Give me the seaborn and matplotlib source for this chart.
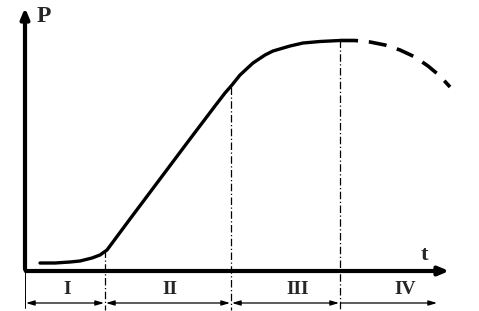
import matplotlib
matplotlib.use('Agg')
import matplotlib.pyplot as plt
import seaborn as sns

sns.set_style('white')
plt.rcParams['font.family'] = ['Liberation Serif', 'DejaVu Serif']

# curve (pixel coordinates, y downwards)
solid_t = [40, 55, 70, 80, 92, 100, 107, 130, 160, 190, 215, 225, 232, 240, 253, 265, 273, 290, 303, 320, 340]
solid_p = [263, 263, 262, 261, 258, 255, 250, 219, 179, 139, 106, 93, 85, 75, 63, 55, 51, 46, 43, 41.5, 40.5]
dash_t = [340, 355, 370, 385, 400, 415, 428, 440, 450]
dash_p = [40.5, 40.5, 42, 45, 50, 57, 66, 76, 87]

# phase boundaries and labels
bounds = [25, 105, 231, 340, 438]
bound_top = [271, 250, 87, 40]
phases = ['I', 'II', 'III', 'IV']
phase_x = [67, 170, 298, 405]

fig = plt.figure(figsize=(4.79, 3.11), dpi=100)
ax = fig.add_axes([0, 0, 1, 1])
ax.set_xlim(0, 479)
ax.set_ylim(311, 0)
ax.axis('off')

sns.lineplot(x=solid_t, y=solid_p, ax=ax, color='black', lw=2.4, sort=False)
sns.lineplot(x=dash_t, y=dash_p, ax=ax, color='black', lw=2.6, sort=False,
             dashes=False, linestyle=(0, (5, 3)))

# axes arrows
ax.annotate('', xy=(25, 5), xytext=(25, 272),
            arrowprops=dict(arrowstyle='-|>,head_width=0.25,head_length=0.6', lw=3, color='black'))
ax.annotate('', xy=(452, 271), xytext=(23, 271),
            arrowprops=dict(arrowstyle='-|>,head_width=0.25,head_length=0.6', lw=3, color='black'))
ax.text(37, 17, 'P', fontsize=17, fontweight='bold', va='center')
ax.text(421, 255, 't', fontsize=16, fontweight='bold', va='center')

# boundaries
ax.plot([25, 25], [271, 308], color='black', lw=0.7)
for x, top in zip(bounds[1:4], bound_top[1:]):
    ax.plot([x, x], [top, 310], color='black', lw=0.9, linestyle=(0, (6, 2, 1, 2)))

# interval arrows
for i, ph in enumerate(phases):
    x0, x1 = bounds[i], bounds[i + 1]
    style = '<|-|>,head_width=0.15,head_length=0.5' if i < 3 else '<|-,head_width=0.15,head_length=0.5'
    ax.annotate('', xy=(x0 + 1, 303), xytext=(x1 - 1, 303),
                arrowprops=dict(arrowstyle=style, lw=0.9, color='black',
                                shrinkA=0, shrinkB=0))
    ax.text(phase_x[i], 289, ph, fontsize=14, fontweight='bold',
            ha='center', va='center')

fig.savefig('out.png', dpi=100)
